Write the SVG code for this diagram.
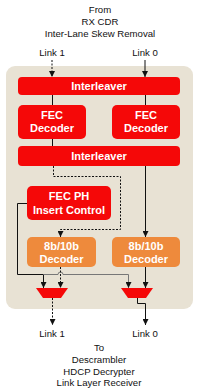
<svg xmlns="http://www.w3.org/2000/svg" width="200" height="392" viewBox="0 0 200 392">
<style>
.lbl{font-family:"Liberation Sans",Arial,sans-serif;font-size:9.6px;fill:#111;text-anchor:middle}
.bt{font-family:"Liberation Sans",Arial,sans-serif;font-size:11px;font-weight:bold;fill:#fff;text-anchor:middle}
.red{fill:#f50808}
.org{fill:#ee8a3c}
.ln{stroke:#111;stroke-width:1;fill:none}
.dash{stroke-dasharray:2,1.5}
.grey{stroke:#777}
</style>
<defs>
<marker id="ah" viewBox="0 0 6 6" refX="6" refY="3" markerWidth="6" markerHeight="6" orient="auto" markerUnits="userSpaceOnUse">
<path d="M0,0 L6,3 L0,6 z" fill="#111"/>
</marker>
</defs>
<rect x="0" y="0" width="200" height="392" fill="#fff"/>
<g id="labels">
<text class="lbl" x="100" y="13">From</text>
<text class="lbl" x="100" y="25">RX CDR</text>
<text class="lbl" x="100" y="36.5">Inter-Lane Skew Removal</text>
<text class="lbl" x="52" y="55.5">Link 1</text>
<text class="lbl" x="145" y="55.5">Link 0</text>
<text class="lbl" x="52" y="336.5">Link 1</text>
<text class="lbl" x="145" y="336.5">Link 0</text>
<text class="lbl" x="99" y="351">To</text>
<text class="lbl" x="99" y="363">Descrambler</text>
<text class="lbl" x="99" y="374.5">HDCP Decrypter</text>
<text class="lbl" x="99" y="386">Link Layer Receiver</text>
</g>
<g id="panel"><rect x="6" y="66" width="187" height="243" rx="9" fill="#e8e2d4"/></g>
<g id="connectors">
<line class="ln dash" x1="52" y1="60" x2="52" y2="77" marker-end="url(#ah)"/>
<line class="ln" x1="145" y1="60" x2="145" y2="77" marker-end="url(#ah)"/>
<line class="ln" x1="52.5" y1="95" x2="52.5" y2="105"/>
<line class="ln" x1="145.5" y1="95" x2="145.5" y2="105"/>
<line class="ln" x1="52.5" y1="139" x2="52.5" y2="146"/>
<path class="ln dash" d="M53.5,166 V176.5 H120.5 V229.5 H60.5 V237" marker-end="url(#ah)"/>
<line class="ln" x1="145.5" y1="166" x2="145.5" y2="237" marker-end="url(#ah)"/>
<path class="ln" d="M27,203.5 H17.5 V274.5 H43.5 V288" marker-end="url(#ah)"/>
<path class="ln grey" d="M43.5,274.5 H58 A2.5,2.5 0 0 1 63,274.5 H128.5 V288" marker-end="url(#ah)"/>
<line class="ln dash" x1="60.5" y1="267" x2="60.5" y2="288" marker-end="url(#ah)"/>
<line class="ln" x1="145.5" y1="267" x2="145.5" y2="288" marker-end="url(#ah)"/>
<line class="ln dash" x1="52.5" y1="298" x2="52.5" y2="325" marker-end="url(#ah)"/>
<path class="ln" d="M137.5,298 V303.5 H145.5 V325" marker-end="url(#ah)"/>
</g>
<g id="interleaver1"><rect class="red" x="18" y="77" width="162" height="18" rx="4"/><text class="bt" x="99" y="90">Interleaver</text></g>
<g id="fec-left"><rect class="red" x="18" y="105" width="68" height="34" rx="5"/><text class="bt" x="52" y="119">FEC</text><text class="bt" x="52" y="132">Decoder</text></g>
<g id="fec-right"><rect class="red" x="112" y="105" width="68" height="34" rx="5"/><text class="bt" x="146" y="119">FEC</text><text class="bt" x="146" y="132">Decoder</text></g>
<g id="interleaver2"><rect class="red" x="18" y="146" width="162" height="20" rx="4"/><text class="bt" x="99" y="160">Interleaver</text></g>
<g id="fec-ph"><rect class="red" x="27" y="186" width="84" height="34" rx="5"/><text class="bt" x="69" y="200">FEC PH</text><text class="bt" x="69" y="213.5">Insert Control</text></g>
<g id="dec-left"><rect class="org" x="27" y="237" width="69" height="30" rx="5"/><text class="bt" x="61.5" y="249.5">8b/10b</text><text class="bt" x="61.5" y="262.5">Decoder</text></g>
<g id="dec-right"><rect class="org" x="112" y="237" width="68" height="30" rx="5"/><text class="bt" x="146" y="249.5">8b/10b</text><text class="bt" x="146" y="262.5">Decoder</text></g>
<g id="mux-left"><polygon points="36,288 68,288 61,298 43,298" fill="#f50808"/></g>
<g id="mux-right"><polygon points="121,288 153,288 146,298 128,298" fill="#f50808"/></g>
</svg>
